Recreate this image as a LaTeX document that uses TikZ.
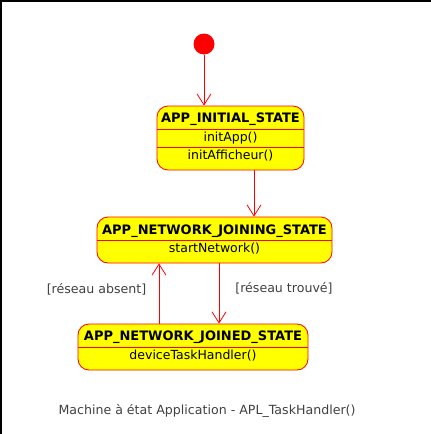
\documentclass[tikz,border=0pt]{standalone}
\usepackage{fontspec}
\setmainfont{DejaVu Sans}
\usepackage{tikz}
\usetikzlibrary{arrows.meta}
\usetikzlibrary{positioning}
\definecolor{uyellow}{RGB}{255,255,0}
\definecolor{ugray}{RGB}{64,64,64}
\tikzstyle{st}=[rectangle,draw=red,fill=uyellow,line width=0.8pt,rounded corners=11pt,inner sep=0pt]
\tikzstyle{sep}=[draw=red,line width=0.8pt]
\tikzstyle{tr}=[draw=red,line width=0.8pt,-{Straight Barb[length=11pt,width=14pt]}]
\tikzstyle{ttl}=[font=\bfseries\fontsize{13}{15}\selectfont,inner sep=0pt]
\tikzstyle{act}=[font=\fontsize{12.5}{14}\selectfont,inner sep=0pt]
\tikzstyle{grd}=[font=\fontsize{12.6}{14}\selectfont,text=ugray,inner sep=0pt]

\begin{document}
\begin{tikzpicture}[x=1pt,y=1pt]
\useasboundingbox (0,0) rectangle (431,-434);

%frame
\draw[line width=1.5pt] (0.75,-434) -- (0.75,-0.75) -- (431,-0.75);

%initial
\node[circle,fill=red,minimum size=21pt,inner sep=0pt] (init) at (204,-44) {};

%states
\node[st,minimum width=147pt,minimum height=64pt] (s1) at (230.5,-138) {};
\node[st,minimum width=235pt,minimum height=46pt] (s2) at (214.5,-240) {};
\node[st,minimum width=230pt,minimum height=46pt] (s3) at (193,-347) {};

%compartments
\draw[sep] (s1.west |- 0,-129) -- (s1.east |- 0,-129);
\draw[sep] (s1.west |- 0,-147) -- (s1.east |- 0,-147);
\draw[sep] (s2.west) -- (s2.east);
\draw[sep] (s3.west) -- (s3.east);

\node[ttl] (t1) at (230.5,-119) {APP\_INITIAL\_STATE};
\node[act] (a1) at (230.5,-138) {initApp()};
\node[act] (b1) at (230.5,-156) {initAfficheur()};
\node[ttl] (t2) at (214.5,-231) {APP\_NETWORK\_JOINING\_STATE};
\node[act] (a2) at (214.5,-249) {startNetwork()};
\node[ttl] (t3) at (193,-337.5) {APP\_NETWORK\_JOINED\_STATE};
\node[act] (a3) at (193,-356) {deviceTaskHandler()};

%transitions
\draw[tr] (init) -- (init |- s1.north);
\draw[tr] ([xshift=23.5pt]s1.south) -- ([xshift=23.5pt]s1.south |- s2.north);
\draw[tr] ([xshift=-34pt]s3.north) -- ([xshift=-34pt]s3.north |- s2.south);
\draw[tr] ([xshift=26pt]s3.north |- s2.south) -- ([xshift=26pt]s3.north);

%guards
\node[grd] (g1) at (96.5,-289) {[réseau absent]};
\node[grd] (g2) at (284,-288) {[réseau trouvé]};

%caption
\node[grd] (cap) at (207,-411) {Machine à état Application - APL\_TaskHandler()};
\end{tikzpicture}
\end{document}
